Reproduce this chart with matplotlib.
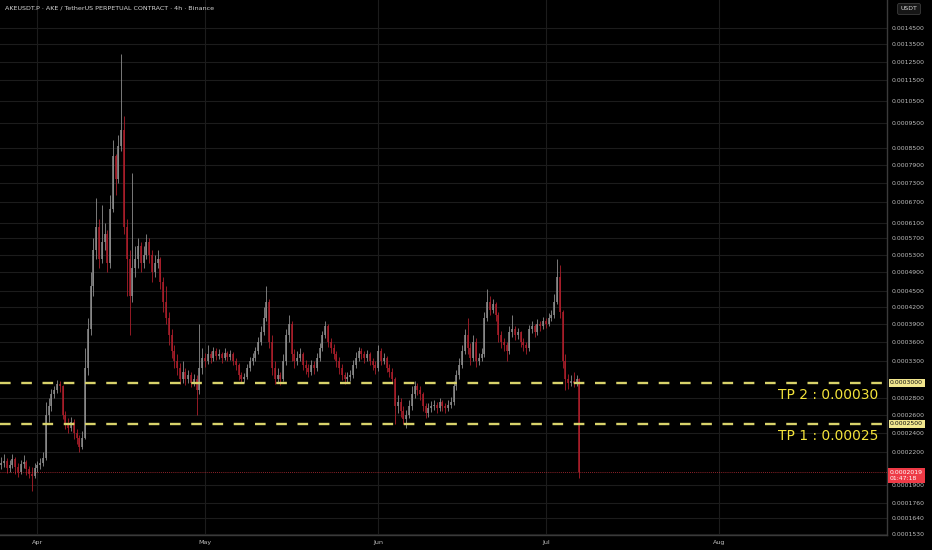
"""AKEUSDT.P 12h-resampled candle chart with take-profit levels, TradingView dark style."""

import matplotlib

matplotlib.use("Agg")
import matplotlib.dates as mdates
import matplotlib.pyplot as plt
import matplotlib.transforms as mtransforms
import pandas as pd

BG = "#000000"
GRID = "#1c1c1c"
UP_COLOR = "#8e8e8e"
DOWN_COLOR = "#ad1f2b"
LEVEL_COLOR = "#d8d26a"
TP_TEXT_COLOR = "#f3e33b"
AXIS_TEXT = "#bdbdbd"
LAST_COLOR = "#ee3a46"

# prices in units of 1e-4 USDT, one candle every 12h
SCALE = 1e-4
START = "2025-03-25 12:00"
first_open = 2.08
closes = [
    2.10, 2.12, 2.05, 2.08, 2.14, 2.06, 2.02, 2.09, 2.11, 2.04,
    2.00, 1.98, 2.05, 2.08, 2.10, 2.15, 2.60, 2.70, 2.85, 2.90,
    2.98, 2.95, 2.60, 2.50, 2.45, 2.52, 2.40, 2.35, 2.25, 2.35,
    3.20, 3.80, 4.60, 5.40, 6.00, 5.20, 5.60, 5.80, 5.10, 6.50,
    8.20, 7.40, 8.60, 9.20, 6.00, 5.20, 4.40, 5.00, 5.20, 5.50,
    5.10, 5.30, 5.60, 5.30, 4.90, 5.10, 5.20, 4.70, 4.30, 4.00,
    3.70, 3.45, 3.30, 3.20, 3.05, 3.15, 3.05, 3.10, 3.00, 3.05,
    2.90, 3.20, 3.35, 3.30, 3.40, 3.35, 3.45, 3.38, 3.40, 3.35,
    3.42, 3.36, 3.40, 3.30, 3.25, 3.10, 3.05, 3.08, 3.20, 3.30,
    3.35, 3.45, 3.60, 3.75, 4.00, 4.30, 3.60, 3.20, 3.05, 3.10,
    3.05, 3.30, 3.70, 3.90, 3.40, 3.30, 3.35, 3.40, 3.25, 3.20,
    3.15, 3.25, 3.20, 3.35, 3.50, 3.70, 3.85, 3.60, 3.50, 3.40,
    3.30, 3.20, 3.10, 3.05, 3.08, 3.10, 3.25, 3.35, 3.45, 3.40,
    3.35, 3.40, 3.30, 3.25, 3.20, 3.45, 3.30, 3.35, 3.20, 3.15,
    3.05, 2.70, 2.75, 2.65, 2.55, 2.60, 2.70, 2.85, 2.95, 2.90,
    2.85, 2.70, 2.62, 2.68, 2.70, 2.72, 2.68, 2.75, 2.70, 2.68,
    2.72, 2.75, 2.95, 3.10, 3.25, 3.45, 3.70, 3.50, 3.35, 3.60,
    3.30, 3.35, 3.40, 4.00, 4.30, 4.15, 4.25, 4.05, 3.70, 3.60,
    3.55, 3.45, 3.75, 3.80, 3.70, 3.75, 3.60, 3.55, 3.50, 3.80,
    3.85, 3.75, 3.90, 3.85, 3.95, 3.90, 4.00, 4.05, 4.30, 4.80,
    4.10, 3.30, 3.05, 3.00, 3.02, 3.00, 3.05, 2.02,
]
highs = [
    2.16, 2.18, 2.15, 2.13, 2.18, 2.16, 2.10, 2.13, 2.17, 2.13,
    2.07, 2.06, 2.10, 2.12, 2.15, 2.20, 2.75, 2.80, 2.92, 2.96,
    3.04, 3.02, 2.97, 2.65, 2.56, 2.58, 2.55, 2.44, 2.38, 2.42,
    3.50, 4.00, 4.90, 5.70, 6.80, 6.20, 6.60, 6.10, 5.90, 6.90,
    8.80, 8.30, 9.00, 12.90, 9.80, 6.20, 5.40, 7.60, 5.50, 5.70,
    5.60, 5.50, 5.80, 5.70, 5.40, 5.30, 5.40, 5.25, 4.80, 4.60,
    4.10, 3.80, 3.55, 3.40, 3.28, 3.30, 3.20, 3.18, 3.14, 3.12,
    3.10, 3.90, 3.50, 3.42, 3.55, 3.46, 3.52, 3.50, 3.48, 3.44,
    3.50, 3.46, 3.47, 3.43, 3.35, 3.28, 3.14, 3.13, 3.26, 3.36,
    3.42, 3.52, 3.68, 3.85, 4.20, 4.60, 4.35, 3.70, 3.30, 3.20,
    3.15, 3.40, 3.80, 4.05, 3.95, 3.48, 3.45, 3.50, 3.44, 3.32,
    3.26, 3.32, 3.30, 3.42, 3.58, 3.78, 3.95, 3.90, 3.66, 3.56,
    3.46, 3.36, 3.26, 3.15, 3.14, 3.18, 3.32, 3.44, 3.52, 3.50,
    3.45, 3.47, 3.44, 3.35, 3.30, 3.55, 3.50, 3.42, 3.38, 3.26,
    3.20, 3.08, 2.84, 2.80, 2.70, 2.66, 2.78, 2.95, 3.02, 3.00,
    2.95, 2.88, 2.74, 2.74, 2.76, 2.78, 2.75, 2.80, 2.78, 2.74,
    2.78, 2.82, 3.02, 3.18, 3.35, 3.55, 3.80, 4.00, 3.58, 3.70,
    3.65, 3.42, 3.50, 4.10, 4.55, 4.40, 4.35, 4.30, 4.10, 3.78,
    3.65, 3.60, 3.85, 4.05, 3.86, 3.82, 3.78, 3.65, 3.60, 3.88,
    3.94, 3.90, 3.98, 3.95, 4.02, 4.00, 4.08, 4.15, 4.45, 5.20,
    5.05, 4.15, 3.40, 3.12, 3.10, 3.15, 3.10, 3.06,
]
lows = [
    2.04, 2.06, 2.01, 2.02, 2.05, 2.00, 1.97, 2.00, 2.05, 1.99,
    1.96, 1.85, 1.96, 2.02, 2.04, 2.07, 2.13, 2.52, 2.65, 2.80,
    2.86, 2.88, 2.55, 2.44, 2.40, 2.42, 2.34, 2.28, 2.20, 2.23,
    2.33, 3.10, 3.70, 4.40, 5.20, 5.00, 5.10, 5.40, 4.90, 5.00,
    6.40, 6.90, 7.30, 8.40, 5.80, 4.40, 3.70, 4.30, 4.80, 5.00,
    4.90, 5.00, 5.20, 5.10, 4.70, 4.80, 5.00, 4.55, 4.10, 3.90,
    3.55, 3.35, 3.20, 3.10, 2.98, 3.00, 2.97, 3.00, 2.94, 2.96,
    2.60, 2.85, 3.12, 3.22, 3.26, 3.28, 3.30, 3.32, 3.33, 3.28,
    3.31, 3.30, 3.32, 3.24, 3.18, 3.04, 2.99, 3.00, 3.05, 3.16,
    3.25, 3.30, 3.40, 3.55, 3.70, 3.95, 3.50, 3.10, 2.98, 3.00,
    2.97, 3.02, 3.25, 3.60, 3.30, 3.20, 3.25, 3.30, 3.18, 3.12,
    3.08, 3.10, 3.12, 3.16, 3.30, 3.45, 3.65, 3.52, 3.42, 3.33,
    3.22, 3.12, 3.04, 2.98, 3.00, 3.02, 3.06, 3.20, 3.30, 3.33,
    3.28, 3.30, 3.24, 3.18, 3.12, 3.16, 3.24, 3.26, 3.14, 3.08,
    2.98, 2.50, 2.62, 2.58, 2.50, 2.45, 2.56, 2.66, 2.80, 2.84,
    2.78, 2.64, 2.56, 2.58, 2.63, 2.66, 2.62, 2.64, 2.64, 2.62,
    2.64, 2.68, 2.72, 2.90, 3.05, 3.20, 3.40, 3.40, 3.25, 3.30,
    3.22, 3.25, 3.30, 3.36, 3.95, 4.05, 4.08, 3.95, 3.60, 3.50,
    3.45, 3.30, 3.40, 3.68, 3.62, 3.64, 3.52, 3.46, 3.40, 3.46,
    3.74, 3.68, 3.70, 3.78, 3.80, 3.82, 3.85, 3.95, 4.00, 4.25,
    4.00, 3.20, 2.90, 2.92, 2.95, 2.94, 2.96, 1.96,
]

price_ticks = [
    0.00145, 0.00135, 0.00125, 0.00115, 0.00105, 0.00095, 0.00085,
    0.00079, 0.00073, 0.00067, 0.00061, 0.00057, 0.00053, 0.00049,
    0.00045, 0.00042, 0.00039, 0.00036, 0.00033, 0.00028, 0.00026,
    0.00024, 0.00022, 0.00019, 0.000176, 0.000164, 0.000153,
]
month_ticks = ["2025-04-01", "2025-05-01", "2025-06-01", "2025-07-01", "2025-08-01"]
month_labels = ["Apr", "May", "Jun", "Jul", "Aug"]
tp_levels = [0.00030, 0.00025]
tp_labels = ["TP 2 : 0.00030", "TP 1 : 0.00025"]
last_price = 0.0002019
countdown = "01:47:18"
title = "AKEUSDT.P · AKE / TetherUS PERPETUAL CONTRACT · 4h · Binance"

# --- figure ---------------------------------------------------------------
fig = plt.figure(figsize=(9.32, 5.5), dpi=100, facecolor=BG)
ax = fig.add_axes([0.0, 15 / 550, 887 / 932, 1 - 15 / 550], facecolor=BG)
ax.set_yscale("log")
ax.set_ylim(0.0001524, 0.001643)
ax.set_xlim(pd.Timestamp("2025-03-25 07:00"), pd.Timestamp("2025-08-31 02:00"))

times = pd.date_range(START, periods=len(closes), freq="12h")
xs = mdates.date2num(times)
opens = [first_open] + closes[:-1]
o = [v * SCALE for v in opens]
c = [v * SCALE for v in closes]
h = [v * SCALE for v in highs]
lo = [v * SCALE for v in lows]
colors = [UP_COLOR if cc >= oo else DOWN_COLOR for oo, cc in zip(o, c)]

ax.vlines(xs, lo, h, colors=colors, linewidth=0.6, zorder=3)
ax.vlines(xs, [min(a, b) for a, b in zip(o, c)], [max(a, b) for a, b in zip(o, c)],
          colors=colors, linewidth=1.1, zorder=3)

# grid
ax.set_yticks(price_ticks)
ax.set_yticklabels([f"{t:.7f}" for t in price_ticks])
ax.yaxis.set_minor_locator(matplotlib.ticker.NullLocator())
ax.set_xticks(pd.to_datetime(month_ticks))
ax.set_xticklabels(month_labels)
ax.grid(True, color=GRID, linewidth=0.8, zorder=0)
ax.set_axisbelow(True)
ax.yaxis.tick_right()
ax.tick_params(axis="y", length=0, pad=3.6, labelsize=4.4, labelcolor=AXIS_TEXT)
ax.tick_params(axis="x", length=0, pad=3.5, labelsize=4.6, labelcolor=AXIS_TEXT)
for name, sp in ax.spines.items():
    sp.set_visible(name in ("right", "bottom"))
    sp.set_color("#3a3a3a")
    sp.set_linewidth(1.0)

# take-profit levels
blend = mtransforms.blended_transform_factory(ax.transAxes, ax.transData)
for level, label in zip(tp_levels, tp_labels):
    ax.axhline(level, color=LEVEL_COLOR, linestyle=(0, (4.5, 4.5)), linewidth=1.7, zorder=4)
    ax.annotate(label, xy=(0.99, level), xycoords=blend, xytext=(0, -9),
                textcoords="offset points", ha="right", va="center",
                fontsize=10, color=TP_TEXT_COLOR, zorder=6)
    ax.text(1.0035, level, f"{level:.7f}", transform=blend, ha="left", va="center",
            fontsize=4.4, color="#111111", clip_on=False, zorder=10,
            bbox=dict(boxstyle="square,pad=0.25", fc="#f1e68e", ec="none"))

# last price
ax.axhline(last_price, color=LAST_COLOR, linestyle=(0, (1, 1.5)), linewidth=0.6,
           alpha=0.8, zorder=4)
ax.annotate(f"{last_price:.7f}\n{countdown}", xy=(1.0035, last_price), xycoords=blend,
            xytext=(0, -3), textcoords="offset points", ha="left", va="center",
            fontsize=4.4, color="#ffffff", linespacing=1.3, annotation_clip=False,
            zorder=10, bbox=dict(boxstyle="square,pad=0.3", fc=LAST_COLOR, ec="none"))

# header texts
fig.text(0.005, 1 - 8 / 550, title, fontsize=4.6, color="#d6d6d6", va="center",
         ha="left")
fig.text(909 / 932, 1 - 9 / 550, "USDT", fontsize=4.4, color="#d6d6d6", va="center",
         ha="center", bbox=dict(boxstyle="round,pad=0.5,rounding_size=0.3",
                                fc="#161616", ec="#3c3c3c", lw=0.6))

fig.savefig("out.png", dpi=100, facecolor=BG)
